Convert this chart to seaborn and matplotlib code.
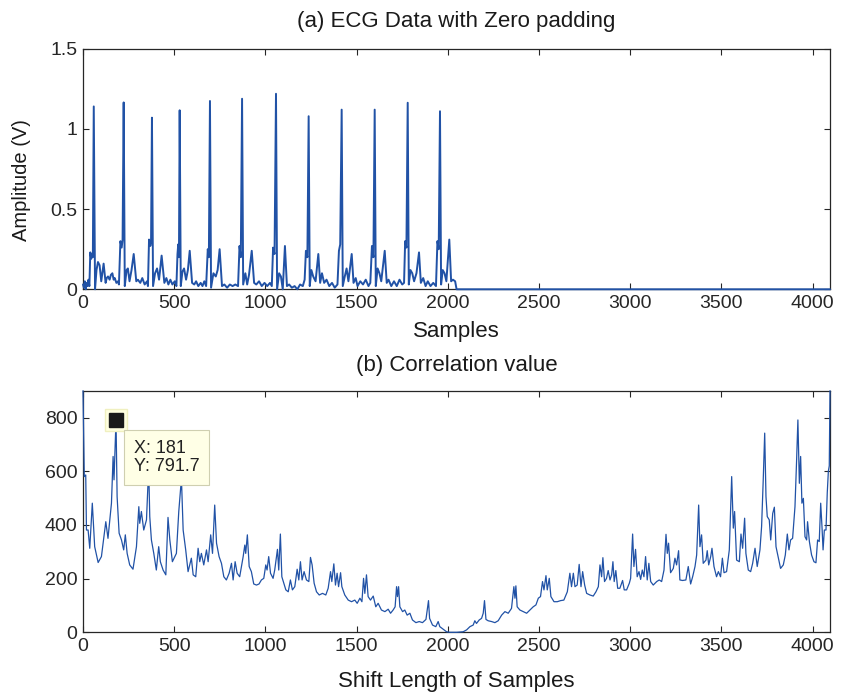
import matplotlib
matplotlib.use("Agg")
import matplotlib.pyplot as plt
import seaborn as sns
import pandas as pd

# ---------------- data ----------------
ecg_samples = [0, 5, 10, 15, 20, 25, 30, 35,
    40, 45, 50, 54, 59, 66, 74, 82, 91, 100, 106, 113, 124, 130, 137, 146, 153, 161, 168, 174, 183, 192, 197,
    205, 212, 217, 223, 229, 239, 246, 255, 266, 278, 292, 301, 314, 325, 338, 351, 356,
    362, 369, 373, 378, 384, 395, 406, 417, 431, 446, 457, 468, 479, 490, 503, 512,
    518, 522, 526, 530, 536, 545, 554, 565, 575, 585, 598, 610, 620, 632, 645, 655, 665, 675,
    684, 690, 696, 702, 715, 728, 738, 749, 762, 775, 790, 805, 820, 835, 850,
    858, 865, 872, 878, 890, 900, 910, 925, 938, 950, 965, 980, 995, 1010, 1025, 1035,
    1042, 1050, 1058, 1064, 1075, 1085, 1095, 1107, 1118, 1130, 1145, 1160, 1175, 1190, 1205, 1215,
    1222, 1230, 1237, 1243, 1252, 1262, 1275, 1290, 1300, 1310, 1322, 1335, 1350, 1365, 1380, 1395,
    1403, 1410, 1418, 1424, 1435, 1445, 1455, 1473, 1483, 1495, 1505, 1520, 1535, 1550, 1565, 1575,
    1584, 1592, 1599, 1605, 1615, 1625, 1635, 1654, 1665, 1675, 1690, 1705, 1720, 1735, 1750, 1760,
    1766, 1773, 1780, 1786, 1795, 1805, 1815, 1828, 1842, 1852, 1865, 1878, 1890, 1905, 1920, 1935,
    1943, 1950, 1957, 1963, 1972, 1982, 1992, 2008, 2018, 2028, 2040, 2048, 4095]
ecg_amplitude = [0.03, 0.01, 0.05, 0.0, 0.04, 0.02, 0.06, 0.02,
    0.23, 0.19, 0.22, 0.20, 1.14, 0.0, 0.12, 0.17, 0.15, 0.05, 0.10, 0.16, 0.04, 0.07, 0.08, 0.06, 0.09, 0.10, 0.06, 0.07, 0.04, 0.05, 0.03,
    0.30, 0.26, 0.31, 1.165, 0.02, 0.12, 0.13, 0.05, 0.12, 0.22, 0.05, 0.06, 0.04, 0.07, 0.03, 0.05, 0.02,
    0.31, 0.27, 0.29, 1.07, 0.02, 0.10, 0.13, 0.06, 0.21, 0.04, 0.07, 0.03, 0.06, 0.03, 0.05, 0.02,
    0.22, 0.28, 0.20, 1.116, 0.02, 0.11, 0.13, 0.06, 0.12, 0.24, 0.04, 0.03, 0.05, 0.02, 0.04, 0.02, 0.05, 0.02,
    0.25, 0.20, 1.174, 0.01, 0.10, 0.08, 0.12, 0.25, 0.02, 0.03, 0.01, 0.03, 0.02, 0.03, 0.02,
    0.27, 0.20, 1.188, 0.03, 0.10, 0.03, 0.09, 0.24, 0.04, 0.03, 0.05, 0.02, 0.04, 0.02, 0.04, 0.02,
    0.26, 0.22, 1.219, 0.0, 0.10, 0.08, 0.0, 0.27, 0.02, 0.03, 0.01, 0.02, 0.0, 0.03, 0.02, 0.06,
    0.24, 0.20, 1.079, 0.02, 0.12, 0.08, 0.05, 0.22, 0.04, 0.10, 0.04, 0.06, 0.02, 0.04, 0.01, 0.03,
    0.24, 0.28, 1.12, 0.02, 0.08, 0.13, 0.05, 0.22, 0.04, 0.07, 0.02, 0.05, 0.03, 0.06, 0.02, 0.04,
    0.27, 0.20, 1.12, 0.02, 0.13, 0.10, 0.05, 0.24, 0.04, 0.06, 0.02, 0.05, 0.02, 0.06, 0.03, 0.04,
    0.30, 0.26, 1.163, 0.03, 0.12, 0.10, 0.05, 0.10, 0.23, 0.04, 0.07, 0.02, 0.05, 0.02, 0.04, 0.02,
    0.30, 0.25, 1.11, 0.03, 0.12, 0.10, 0.05, 0.31, 0.05, 0.06, 0.05, 0.0, 0.0]

corr_shift = [0, 7, 15, 19, 28, 37, 51, 64, 83, 101, 125, 137, 156, 165, 170, 181, 187, 198, 211, 223,
    232, 242, 256, 274, 293, 306, 311, 320, 333, 348, 357, 360, 366, 375, 388, 402, 415, 424, 439, 454,
    466, 476, 490, 512, 525, 536, 540, 549, 563, 576, 594, 604, 618, 631, 640, 649, 662, 677, 686, 700,
    710, 722, 732, 746, 759, 772, 786, 801, 814, 823, 834, 845, 859, 878, 887, 892, 901, 911, 923, 936,
    951, 965, 978, 991, 1002, 1009, 1018, 1028, 1042, 1051, 1066, 1073, 1082, 1090, 1101, 1112, 1125, 1137, 1148, 1161,
    1174, 1183, 1192, 1201, 1212, 1225, 1238, 1247, 1256, 1267, 1280, 1295, 1313, 1331, 1344, 1357, 1364, 1375, 1384, 1393,
    1401, 1412, 1419, 1435, 1454, 1472, 1490, 1503, 1518, 1529, 1538, 1545, 1554, 1563, 1576, 1591, 1605, 1618, 1636, 1655,
    1673, 1686, 1700, 1711, 1719, 1724, 1730, 1737, 1752, 1764, 1777, 1792, 1806, 1825, 1843, 1861, 1880, 1894, 1900, 1916,
    1934, 1947, 1956, 1975, 1993, 2011, 2048, 2084, 2103, 2121, 2139, 2148, 2157, 2172, 2185, 2194, 2201, 2209, 2221, 2240,
    2258, 2276, 2295, 2313, 2331, 2349, 2362, 2368, 2373, 2380, 2395, 2413, 2432, 2450, 2468, 2483, 2496, 2508, 2519, 2527,
    2538, 2545, 2556, 2565, 2582, 2600, 2618, 2636, 2655, 2669, 2678, 2688, 2697, 2709, 2720, 2730, 2739, 2750, 2761, 2779,
    2797, 2812, 2825, 2834, 2843, 2850, 2859, 2870, 2879, 2889, 2898, 2905, 2912, 2921, 2931, 2943, 2958, 2967, 2980, 2995,
    3002, 3013, 3020, 3029, 3038, 3048, 3057, 3066, 3075, 3084, 3093, 3102, 3112, 3126, 3145, 3159, 3172, 3185, 3196, 3203,
    3210, 3221, 3236, 3245, 3254, 3265, 3272, 3287, 3305, 3318, 3331, 3342, 3355, 3364, 3375, 3382, 3391, 3400, 3415, 3422,
    3430, 3441, 3448, 3459, 3473, 3483, 3495, 3505, 3514, 3528, 3543, 3556, 3565, 3572, 3583, 3598, 3607, 3616, 3627, 3634,
    3647, 3660, 3671, 3684, 3696, 3711, 3720, 3729, 3737, 3744, 3751, 3762, 3770, 3781, 3790, 3799, 3812, 3824, 3839, 3850,
    3861, 3870, 3879, 3890, 3903, 3912, 3919, 3927, 3934, 3941, 3949, 3958, 3967, 3972, 3982, 3994, 4007, 4018, 4027, 4036,
    4044, 4051, 4057, 4064, 4073, 4080, 4086, 4091, 4095]
corr_value = [900, 580, 586, 381, 381, 313, 481, 319, 260, 282, 412, 350, 481, 655, 568, 791.7, 505, 369, 344, 307,
    363, 294, 251, 235, 319, 468, 406, 450, 381, 419, 568, 615, 431, 344, 294, 232, 319, 263, 232, 214,
    428, 344, 263, 294, 450, 543, 565, 381, 307, 226, 276, 214, 207, 313, 263, 294, 251, 307, 263, 363,
    294, 474, 332, 282, 257, 207, 195, 220, 257, 195, 263, 220, 207, 282, 325, 294, 363, 245, 226, 180,
    176, 180, 195, 201, 251, 232, 282, 220, 201, 232, 309, 232, 366, 207, 183, 158, 151, 195, 158, 170,
    235, 195, 263, 195, 226, 195, 189, 279, 251, 183, 151, 139, 145, 139, 164, 226, 189, 255, 176, 220,
    170, 222, 170, 139, 120, 114, 120, 108, 127, 114, 201, 145, 214, 133, 120, 135, 95, 108, 83, 77,
    86, 71, 83, 95, 170, 133, 170, 95, 77, 83, 64, 71, 46, 36, 40, 36, 48, 118, 52, 27,
    21, 40, 21, 11, 2, 0, 0, 2, 9, 21, 27, 43, 33, 46, 52, 71, 118, 48, 43, 40,
    36, 43, 64, 77, 71, 89, 170, 127, 173, 95, 83, 77, 71, 83, 95, 102, 127, 133, 189, 158,
    211, 158, 201, 133, 114, 114, 118, 120, 151, 220, 170, 220, 170, 176, 253, 170, 226, 176, 145, 139,
    135, 151, 170, 251, 207, 278, 189, 201, 230, 195, 214, 263, 189, 230, 164, 164, 193, 158, 158, 183,
    201, 366, 245, 309, 207, 226, 197, 232, 207, 282, 195, 257, 189, 176, 189, 195, 189, 232, 365, 294,
    332, 222, 238, 276, 251, 304, 195, 193, 195, 245, 180, 207, 245, 288, 474, 319, 363, 257, 269, 304,
    251, 282, 313, 245, 207, 226, 207, 276, 222, 226, 307, 580, 388, 450, 269, 263, 366, 313, 425, 294,
    232, 226, 257, 313, 245, 307, 394, 568, 742, 506, 431, 419, 344, 443, 466, 319, 276, 238, 251, 288,
    366, 307, 344, 350, 468, 642, 791, 555, 655, 481, 499, 356, 344, 412, 338, 288, 263, 259, 344, 338,
    481, 394, 307, 381, 381, 520, 600, 620, 900]

datatip_x = 181
datatip_y = 791.7
datatip_text = "X: 181\nY: 791.7"

top_title = "(a) ECG Data with Zero padding"
top_xlabel = "Samples"
top_ylabel = "Amplitude (V)"
bottom_title = "(b) Correlation value"
bottom_xlabel = "Shift Length of Samples"
x_ticks = [0, 500, 1000, 1500, 2000, 2500, 3000, 3500, 4000]
top_yticks = [0, 0.5, 1, 1.5]
top_yticklabels = ["0", "0.5", "1", "1.5"]
bottom_yticks = [0, 200, 400, 600, 800]

# ---------------- drawing ----------------
sns.set_style("ticks")
plt.rcParams['font.family'] = ['Liberation Sans', 'DejaVu Sans']

line_color = '#2152A6'
spine_color = '#262626'
W, H = 841, 694
fig = plt.figure(figsize=(W / 100, H / 100), dpi=100)
ax1 = fig.add_axes([83 / W, 1 - 289.3 / H, 747 / W, 240.6 / H])
ax2 = fig.add_axes([83 / W, 1 - 632.3 / H, 747 / W, 241.6 / H])

ecg_df = pd.DataFrame({"sample": ecg_samples, "amp": ecg_amplitude})
corr_df = pd.DataFrame({"shift": corr_shift, "value": corr_value})

sns.lineplot(data=ecg_df, x="sample", y="amp", ax=ax1, color=line_color,
             linewidth=1.4, estimator=None, sort=False, zorder=3, clip_on=False)
sns.lineplot(data=corr_df, x="shift", y="value", ax=ax2, color=line_color,
             linewidth=0.9, estimator=None, sort=False, zorder=3, clip_on=False)

ax1.set_xlim(0, 4095)
ax1.set_ylim(0, 1.5)
ax2.set_xlim(0, 4095)
ax2.set_ylim(0, 900)

for ax in (ax1, ax2):
    ax.set_xticks(x_ticks)
    ax.set_xticklabels([str(t) for t in x_ticks])
    ax.tick_params(direction='in', top=True, right=True, length=4.5, width=0.8,
                   labelsize=14, colors=spine_color, pad=4)
    for s in ax.spines.values():
        s.set_visible(True)
        s.set_color(spine_color)
        s.set_linewidth(0.9)
    ax.set_xlabel("")
    ax.set_ylabel("")

ax1.set_yticks(top_yticks)
ax1.set_yticklabels(top_yticklabels)
ax2.set_yticks(bottom_yticks)
ax2.set_yticklabels([str(t) for t in bottom_yticks])

tc = '#1a1a1a'
fs = 16
fig.text(456.5 / W, 1 - 22 / H, top_title, ha='center', va='center', fontsize=fs, color=tc)
fig.text(456.5 / W, 1 - 331 / H, top_xlabel, ha='center', va='center', fontsize=fs, color=tc)
fig.text(22 / W, 1 - 180 / H, top_ylabel, ha='center', va='center', fontsize=14.5, color=tc, rotation=90)
fig.text(456.5 / W, 1 - 366 / H, bottom_title, ha='center', va='center', fontsize=fs, color=tc)
fig.text(456.5 / W, 1 - 681 / H, bottom_xlabel, ha='center', va='center', fontsize=fs, color=tc)

# data tip
ax2.plot([datatip_x], [datatip_y], marker='s', markersize=16.5, color='#FFFFE0',
         markeredgecolor='#F0F0C0', zorder=4, clip_on=False)
ax2.plot([datatip_x], [datatip_y], marker='s', markersize=10, color='#1a1a1a',
         markeredgecolor='#1a1a1a', zorder=5, clip_on=False)
ax2.text(278, 651, datatip_text, ha='left', va='center', fontsize=13, color='#222222',
         linespacing=1.1, zorder=6,
         bbox=dict(boxstyle='square,pad=0.55', facecolor='#FFFFE6', edgecolor='#CFCFB0', linewidth=0.8))

fig.savefig("out.png", dpi=100)
